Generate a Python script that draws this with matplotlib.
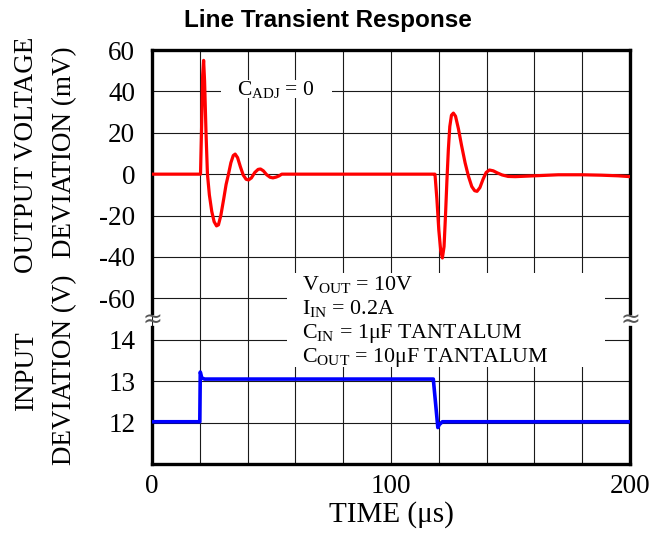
import matplotlib
matplotlib.use('Agg')
import matplotlib.pyplot as plt
from matplotlib.patches import Rectangle

plt.rcParams['font.family'] = ['Liberation Serif', 'DejaVu Serif']
plt.rcParams['mathtext.fontset'] = 'custom'
plt.rcParams['mathtext.rm'] = 'Liberation Serif'
plt.rcParams['mathtext.it'] = 'Liberation Serif:italic'
plt.rcParams['mathtext.bf'] = 'Liberation Serif:bold'

# ---------------- data ----------------
time_out = [0, 20.3, 20.8, 21.2, 21.6, 22.0, 22.6, 23.2, 24.0, 25.0, 26.0, 27.0,
            27.8, 28.8, 30.0, 31.0, 32.0, 33.0, 34.0, 34.8, 35.8, 37.0, 38.2,
            39.4, 40.4, 41.6, 43.0, 44.4, 45.4, 46.6, 48.0, 49.4, 50.6, 52.0,
            53.2, 54.3, 117.8,
            118.4, 119.2, 120.0, 120.8, 121.5, 122.2, 122.8, 123.4, 124.0, 124.6,
            125.3, 126.1, 127.0, 128.2, 129.5, 131.0, 132.4, 133.8, 135.0, 136.0,
            137.2, 138.5, 139.8, 141.2, 142.8, 144.5, 146.5, 149.0, 152.0, 156.0,
            162.0, 170.0, 180.0, 188.0, 195.0, 200.0]
vout_dev = [0, 0, 25, 48, 55, 45, 20, 0, -10, -18, -23, -25,
            -24.5, -20, -12, -5, 0, 5.5, 9, 9.7, 8, 3.5, -0.5,
            -2.5, -2.8, -1.8, 0.8, 2.3, 2.5, 1.6, -0.3, -1.5, -1.8, -1.4,
            -0.8, 0, 0,
            0, -12, -27, -37, -40.5, -35, -20, -3, 12, 23,
            28.5, 29.5, 28, 22, 14, 5.5, -1, -6, -8, -8.3,
            -6.5, -2.5, 0.8, 2.0, 1.6, 0.6, -0.4, -1.1, -1.2, -1.0,
            -0.7, -0.3, -0.3, -0.5, -0.8, -1.2]

time_in = [0, 20.0, 20.2, 20.8, 22.0, 117.7, 119.6, 120.2, 121.5, 200]
vin = [12.02, 12.02, 13.22, 13.08, 13.05, 13.05, 11.88, 11.95, 12.02, 12.02]

out_ticks = [-60, -40, -20, 0, 20, 40, 60]
out_tick_labels = ['-60', '-40', '-20', '0', '20', '40', '60']
in_ticks = [12, 13, 14]
in_tick_labels = ['12', '13', '14']
x_grid = list(range(0, 201, 20))
x_tick_labels = ['0', '', '', '', '', '100', '', '', '', '', '200']

title = 'Line Transient Response'
xlabel = 'TIME (\u03bcs)'
cadj_text = r'$\mathrm{C_{ADJ}}$ = 0'
cond_lines = [r'$\mathrm{V_{OUT}}$ = 10V',
              r'$\mathrm{I_{IN}}$ = 0.2A',
              '$\\mathrm{C_{IN}}$ = 1\u03bcF TANTALUM',
              '$\\mathrm{C_{OUT}}$ = 10\u03bcF TANTALUM']

# ---------------- layout ----------------
W, H = 649, 535
fig = plt.figure(figsize=(W / 100, H / 100), dpi=100)


def fx(px):
    return px / W


def fy(py):
    return 1 - py / H


L, R, T, B, J = 152, 630, 50, 464, 319
ax_top = fig.add_axes([fx(L), fy(J), fx(R - L), (J - T) / H])
ax_bot = fig.add_axes([fx(L), fy(B), fx(R - L), (B - J) / H])

spine_w = 2.4
grid_kw = dict(color='#1a1a1a', linewidth=0.8)

for ax in (ax_top, ax_bot):
    ax.set_xlim(0, 200)
    ax.set_xticks(x_grid)
    ax.grid(True, **grid_kw)
    ax.set_axisbelow(True)
    ax.tick_params(length=0, labelsize=19.5)
    for s in ax.spines.values():
        s.set_linewidth(spine_w)
        s.set_color('black')

ax_top.set_ylim(-70, 60)
ax_top.set_yticks(out_ticks)
ax_top.set_yticklabels(out_tick_labels)
ax_top.tick_params(axis='x', labelbottom=False)
ax_top.tick_params(axis='y', pad=12)
ax_top.spines['bottom'].set_visible(False)
ax_top.spines['left'].set_bounds(-67, 60)
ax_top.spines['right'].set_bounds(-67, 60)

ax_bot.set_ylim(11, 14.5)
ax_bot.set_yticks(in_ticks)
ax_bot.set_yticklabels(in_tick_labels)
ax_bot.set_xticklabels(x_tick_labels)
ax_bot.tick_params(axis='y', pad=12)
ax_bot.tick_params(axis='x', pad=7)
ax_bot.spines['top'].set_visible(False)
ax_bot.spines['left'].set_bounds(11, 14.3)
ax_bot.spines['right'].set_bounds(11, 14.3)

ax_top.plot(time_out, vout_dev, color='#ff0000', linewidth=2.3,
            solid_joinstyle='round', zorder=3)
ax_bot.plot(time_in, vin, color='#0000ff', linewidth=2.6,
            solid_joinstyle='round', zorder=3)

# white boxes behind annotations (cover the grid)
fig.patches.append(Rectangle((fx(221), fy(98)), fx(332 - 221), (98 - 80) / H,
                             transform=fig.transFigure, facecolor='white',
                             edgecolor='none', zorder=2))
fig.patches.append(Rectangle((fx(287), fy(367)), fx(605 - 287), (367 - 273) / H,
                             transform=fig.transFigure, facecolor='white',
                             edgecolor='none', zorder=2))

fig.text(fx(237), fy(95), cadj_text, fontsize=15.5, va='baseline', ha='left', zorder=4)
for i, line in enumerate(cond_lines):
    fig.text(fx(302), fy(290 + 24 * i), line, fontsize=15.8,
             va='baseline', ha='left', zorder=4)

# axis break marks
for xb in (L, R):
    fig.text(fx(xb), fy(320), '\u2248', fontsize=17, color='#555555',
             family=['DejaVu Sans'], ha='center', va='center', zorder=5)

# labels
fig.text(fx(27), fy(155), 'OUTPUT VOLTAGE', rotation=90, fontsize=19.5,
         ha='center', va='center')
fig.text(fx(65), fy(152), 'DEVIATION (mV)', rotation=90, fontsize=19.5,
         ha='center', va='center')
fig.text(fx(27), fy(371), 'INPUT', rotation=90, fontsize=19.5,
         ha='center', va='center')
fig.text(fx(65), fy(370), 'DEVIATION (V)', rotation=90, fontsize=19.5,
         ha='center', va='center')
fig.text(fx(391), fy(522), xlabel, fontsize=21, ha='center', va='baseline')
fig.text(fx(328), fy(27), title, fontsize=17.5, fontweight='bold',
         family=['Liberation Sans', 'DejaVu Sans'], ha='center', va='baseline')

fig.savefig('out.png', dpi=100, facecolor='white')
